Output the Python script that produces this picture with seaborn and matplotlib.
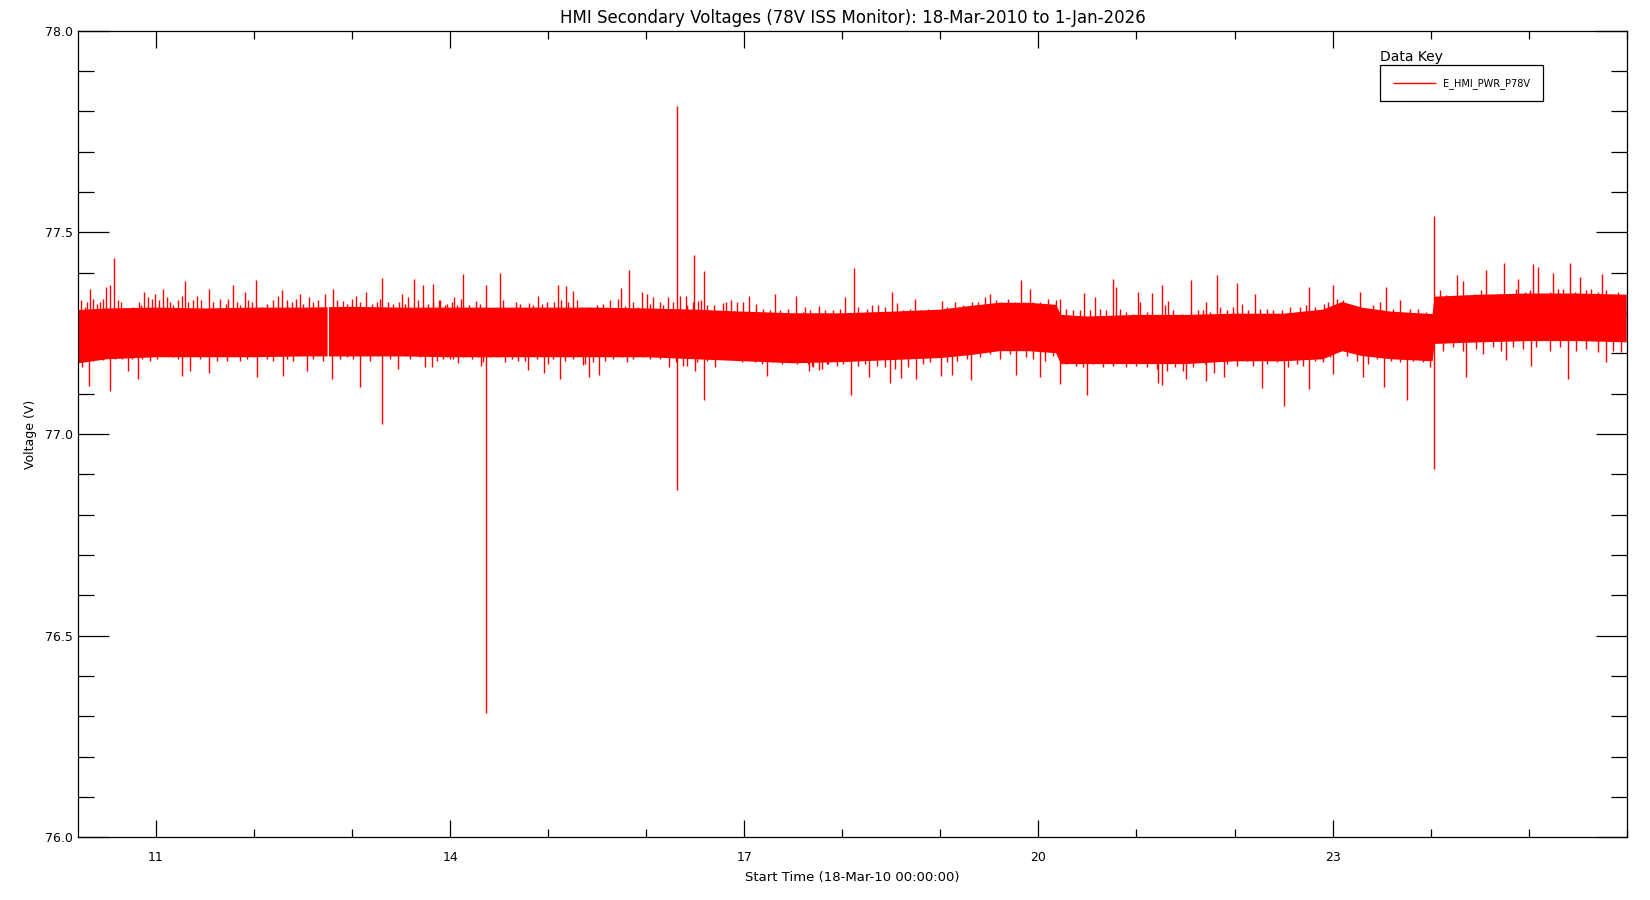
import numpy as np
import matplotlib
matplotlib.use("Agg")
import matplotlib.pyplot as plt
from matplotlib.ticker import FixedLocator, MultipleLocator, FormatStrFormatter
import seaborn as sns

# zeit v rokoch od 2000 (18-Mar-2010 ... 1-Jan-2026), napatie vo voltoch
# jadro sumoveho pasu (horna a dolna hranica)
band_years = [10.21, 10.5, 11.0, 11.5, 12.0, 12.5, 13.0, 13.5, 14.0, 14.5, 15.0, 15.5, 16.0,
              16.5, 17.0, 17.5, 18.0, 18.5, 19.0, 19.3, 19.6, 19.9, 20.18, 20.23, 20.5, 21.0,
              21.5, 22.0, 22.5, 22.9, 23.1, 23.3, 23.6, 24.02, 24.04, 24.5, 25.0, 25.5, 26.0]
band_hi = [77.307, 77.311, 77.313, 77.311, 77.313, 77.313, 77.315, 77.313, 77.313, 77.313, 77.313,
           77.313, 77.311, 77.308, 77.303, 77.299, 77.299, 77.303, 77.308, 77.317, 77.325, 77.325,
           77.32, 77.295, 77.291, 77.295, 77.295, 77.298, 77.298, 77.308, 77.327, 77.313, 77.303,
           77.297, 77.34, 77.345, 77.348, 77.348, 77.345]
band_lo = [77.175, 77.185, 77.19, 77.19, 77.19, 77.192, 77.192, 77.192, 77.19, 77.19, 77.19,
           77.19, 77.19, 77.185, 77.18, 77.175, 77.178, 77.183, 77.188, 77.195, 77.205, 77.205,
           77.2, 77.173, 77.173, 77.173, 77.173, 77.18, 77.18, 77.185, 77.205, 77.193, 77.185,
           77.18, 77.223, 77.227, 77.23, 77.23, 77.227]
gap_year = 12.757

# vyrazne spicky nad pasom
up_years = [10.232, 10.327, 10.361, 10.487, 10.531, 10.575, 10.881, 10.990, 11.075, 11.296,
            11.544, 11.788, 12.020, 12.281, 12.468, 12.801, 13.039, 13.505, 13.631, 13.726,
            13.821, 13.896, 14.134, 14.508, 14.899, 14.984, 15.096, 15.184, 15.256, 15.745,
            15.827, 15.956, 16.010, 16.065, 16.224, 16.401, 16.490, 16.557, 16.863, 17.047,
            17.312, 17.530, 17.761, 18.029, 18.121, 18.502, 18.743, 19.504, 19.824, 19.912,
            20.463, 20.575, 20.762, 20.796, 21.017, 21.163, 21.262, 21.323, 21.551, 21.707,
            21.823, 22.027, 22.210, 22.761, 23.006, 23.278, 23.546, 24.270, 24.331, 24.569,
            24.746, 24.892, 25.045, 25.096, 25.249, 25.419, 25.521, 25.749, 25.912]
up_tips = [77.331, 77.360, 77.335, 77.364, 77.368, 77.437, 77.352, 77.348, 77.358, 77.378,
           77.360, 77.368, 77.381, 77.356, 77.348, 77.360, 77.343, 77.348, 77.385, 77.368,
           77.371, 77.331, 77.396, 77.398, 77.343, 77.328, 77.368, 77.366, 77.353, 77.362,
           77.407, 77.352, 77.348, 77.339, 77.339, 77.341, 77.443, 77.333, 77.331, 77.341,
           77.348, 77.341, 77.316, 77.339, 77.412, 77.352, 77.335, 77.348, 77.381, 77.358,
           77.350, 77.339, 77.385, 77.364, 77.352, 77.349, 77.370, 77.329, 77.381, 77.327,
           77.393, 77.373, 77.346, 77.363, 77.368, 77.352, 77.363, 77.393, 77.378, 77.406,
           77.424, 77.385, 77.421, 77.413, 77.398, 77.423, 77.388, 77.396, 77.352]

# vyrazne spicky pod pasom
down_years = [10.242, 10.320, 10.531, 10.718, 10.820, 11.268, 11.347, 11.540, 12.027, 12.292,
              12.536, 12.791, 13.080, 13.471, 13.743, 13.814, 14.080, 14.317, 14.797, 14.960,
              15.123, 15.354, 15.419, 15.521, 16.228, 16.377, 16.496, 16.697, 17.234, 17.655,
              17.764, 18.090, 18.274, 18.485, 18.600, 18.753, 19.005, 19.114, 19.311, 19.770,
              20.014, 20.222, 20.497, 21.221, 21.262, 21.500, 21.711, 21.789, 21.894, 22.282,
              22.506, 22.761, 23.006, 23.308, 23.526, 23.760, 24.362, 24.766, 25.021, 25.398,
              25.789]
down_tips = [77.165, 77.119, 77.106, 77.156, 77.135, 77.144, 77.156, 77.152, 77.140, 77.144,
             77.156, 77.137, 77.117, 77.160, 77.165, 77.165, 77.175, 77.169, 77.158, 77.150,
             77.137, 77.171, 77.142, 77.146, 77.166, 77.169, 77.156, 77.167, 77.144, 77.156,
             77.158, 77.096, 77.140, 77.127, 77.138, 77.137, 77.144, 77.146, 77.133, 77.146,
             77.140, 77.123, 77.096, 77.127, 77.121, 77.137, 77.131, 77.152, 77.142, 77.115,
             77.069, 77.112, 77.148, 77.140, 77.117, 77.085, 77.142, 77.184, 77.169, 77.137,
             77.177]

# drobne "chlpy" na okraji pasu (horny okraj)
hair_up_years = [10.276, 10.293, 10.395, 10.429, 10.463, 10.616, 10.640, 10.701, 10.769, 10.827,
                 10.847, 10.922, 10.963, 11.031, 11.116, 11.143, 11.177, 11.228, 11.262, 11.323,
                 11.381, 11.421, 11.455, 11.585, 11.653, 11.714, 11.738, 11.823, 11.857, 11.907,
                 11.935, 11.975, 12.077, 12.128, 12.196, 12.247, 12.332, 12.383, 12.428, 12.502,
                 12.563, 12.604, 12.655, 12.723, 12.842, 12.910, 12.951, 12.999, 13.080, 13.141,
                 13.199, 13.250, 13.284, 13.369, 13.420, 13.481, 13.539, 13.573, 13.675, 13.777,
                 13.828, 13.964, 14.015, 14.066, 13.886, 13.947, 14.039, 14.110, 14.195, 14.260,
                 14.304, 14.423, 14.535, 14.593, 14.668, 14.712, 14.807, 14.848, 14.939, 15.058,
                 15.126, 15.201, 15.290, 15.341, 15.426, 15.494, 15.562, 15.630, 15.708, 15.782,
                 15.867, 15.918, 16.037, 16.139, 16.173, 16.275, 16.343, 16.411, 16.479, 16.530,
                 16.615, 16.693, 16.778, 16.812, 16.921, 16.989, 17.118, 17.193, 17.261, 17.363,
                 17.448, 17.601, 17.669, 17.822, 17.618, 17.907, 17.975, 18.162, 18.247, 18.298,
                 18.366, 18.434, 18.553, 18.621, 18.689, 18.791, 18.876, 18.927, 19.012, 19.063,
                 19.148, 19.233, 19.318, 19.385, 19.453, 19.572, 19.623, 19.691, 19.759, 19.946,
                 20.014, 20.099, 20.184, 20.218, 20.286, 20.354, 20.422, 20.524, 20.626, 20.694,
                 20.830, 20.898, 20.966, 21.034, 21.102, 21.289, 21.374, 21.459, 21.527, 21.629,
                 21.680, 21.748, 21.850, 21.918, 21.986, 22.071, 22.139, 22.258, 22.326, 22.394,
                 22.479, 22.564, 22.666, 22.727, 22.819, 22.910, 22.955, 23.040, 23.108, 23.193,
                 23.346, 23.414, 23.482, 23.617, 23.685, 23.787, 23.872, 23.957, 24.093, 24.161,
                 24.229, 24.365, 24.450, 24.518, 24.620, 24.705, 24.807, 24.875, 24.960, 25.011,
                 25.164, 25.215, 25.300, 25.351, 25.470, 25.589, 25.640, 25.708, 25.793, 25.861,
                 25.946]
hair_up_tips = [77.314, 77.327, 77.323, 77.327, 77.335, 77.331, 77.327, 77.310, 77.314, 77.327,
                77.319, 77.339, 77.335, 77.331, 77.339, 77.327, 77.319, 77.331, 77.343, 77.327,
                77.331, 77.343, 77.331, 77.327, 77.335, 77.323, 77.335, 77.327, 77.319, 77.352,
                77.331, 77.327, 77.314, 77.323, 77.331, 77.343, 77.331, 77.327, 77.335, 77.323,
                77.339, 77.327, 77.331, 77.348, 77.331, 77.329, 77.323, 77.335, 77.327, 77.352,
                77.323, 77.327, 77.335, 77.327, 77.323, 77.327, 77.323, 77.339, 77.331, 77.323,
                77.327, 77.323, 77.327, 77.319, 77.331, 77.319, 77.339, 77.335, 77.319, 77.329,
                77.323, 77.310, 77.331, 77.310, 77.327, 77.323, 77.324, 77.319, 77.323, 77.327,
                77.331, 77.327, 77.331, 77.314, 77.314, 77.319, 77.323, 77.331, 77.335, 77.316,
                77.327, 77.314, 77.323, 77.327, 77.319, 77.327, 77.343, 77.319, 77.327, 77.329,
                77.319, 77.319, 77.324, 77.327, 77.327, 77.327, 77.323, 77.310, 77.306, 77.306,
                77.310, 77.302, 77.306, 77.306, 77.314, 77.306, 77.310, 77.314, 77.310, 77.319,
                77.319, 77.314, 77.324, 77.306, 77.310, 77.306, 77.310, 77.306, 77.329, 77.314,
                77.327, 77.319, 77.327, 77.327, 77.339, 77.331, 77.327, 77.335, 77.327, 77.327,
                77.327, 77.335, 77.331, 77.335, 77.310, 77.306, 77.306, 77.306, 77.310, 77.306,
                77.310, 77.302, 77.298, 77.327, 77.302, 77.319, 77.306, 77.298, 77.293, 77.306,
                77.306, 77.302, 77.314, 77.306, 77.314, 77.323, 77.306, 77.310, 77.310, 77.306,
                77.306, 77.314, 77.314, 77.319, 77.314, 77.321, 77.327, 77.335, 77.331, 77.310,
                77.310, 77.319, 77.327, 77.310, 77.331, 77.310, 77.310, 77.302, 77.356, 77.344,
                77.339, 77.344, 77.348, 77.356, 77.344, 77.348, 77.344, 77.360, 77.352, 77.356,
                77.344, 77.352, 77.360, 77.360, 77.352, 77.356, 77.360, 77.352, 77.356, 77.344,
                77.335]

# drobne "chlpy" na okraji pasu (dolny okraj)
hair_down_years = [10.225, 10.259, 10.361, 10.412, 10.463, 10.582, 10.650, 10.752, 10.854, 10.939,
                   11.007, 11.177, 11.228, 11.449, 11.619, 11.721, 11.857, 11.925, 12.128, 12.196,
                   12.332, 12.400, 12.604, 12.706, 12.876, 12.944, 13.012, 13.182, 13.386, 13.590,
                   13.692, 13.862, 13.964, 14.032, 13.930, 13.998, 14.134, 14.219, 14.287, 14.338,
                   14.406, 14.474, 14.559, 14.627, 14.695, 14.763, 14.882, 15.001, 15.045, 15.171,
                   15.256, 15.375, 15.460, 15.578, 15.663, 15.748, 15.799, 15.867, 15.969, 16.037,
                   16.139, 16.302, 16.411, 16.513, 16.615, 16.751, 16.836, 16.904, 16.972, 17.040,
                   17.108, 17.176, 17.295, 17.380, 17.465, 17.533, 17.601, 17.686, 17.839, 17.652,
                   17.703, 17.788, 17.856, 17.941, 18.009, 18.162, 18.230, 18.349, 18.434, 18.536,
                   18.672, 18.825, 18.893, 19.063, 19.165, 19.267, 19.403, 19.504, 19.606, 19.708,
                   19.878, 19.946, 20.065, 20.150, 20.286, 20.388, 20.456, 20.558, 20.660, 20.762,
                   20.898, 21.000, 21.102, 21.204, 21.306, 21.391, 21.476, 21.578, 21.697, 21.799,
                   21.918, 22.020, 22.122, 22.190, 22.326, 22.428, 22.547, 22.632, 22.700, 22.819,
                   22.904, 22.972, 23.074, 23.142, 23.244, 23.363, 23.448, 23.600, 23.685, 23.821,
                   23.923, 23.991, 24.127, 24.229, 24.331, 24.467, 24.535, 24.637, 24.722, 24.841,
                   24.943, 25.079, 25.215, 25.317, 25.487, 25.589, 25.708, 25.861, 25.946]
hair_down_tips = [77.185, 77.177, 77.181, 77.185, 77.183, 77.185, 77.185, 77.185, 77.185, 77.181,
                  77.185, 77.190, 77.185, 77.185, 77.181, 77.181, 77.181, 77.185, 77.185, 77.181,
                  77.185, 77.181, 77.185, 77.181, 77.185, 77.190, 77.185, 77.181, 77.185, 77.185,
                  77.190, 77.181, 77.190, 77.185, 77.185, 77.185, 77.190, 77.185, 77.190, 77.177,
                  77.190, 77.190, 77.177, 77.185, 77.181, 77.181, 77.185, 77.173, 77.185, 77.181,
                  77.185, 77.173, 77.177, 77.181, 77.185, 77.190, 77.177, 77.185, 77.190, 77.185,
                  77.185, 77.177, 77.169, 77.177, 77.181, 77.190, 77.185, 77.190, 77.177, 77.185,
                  77.177, 77.173, 77.177, 77.173, 77.177, 77.173, 77.177, 77.169, 77.173, 77.173,
                  77.165, 77.160, 77.173, 77.169, 77.173, 77.169, 77.173, 77.169, 77.165, 77.160,
                  77.165, 77.173, 77.177, 77.177, 77.181, 77.185, 77.190, 77.198, 77.185, 77.198,
                  77.190, 77.185, 77.181, 77.194, 77.173, 77.169, 77.165, 77.173, 77.165, 77.169,
                  77.165, 77.169, 77.165, 77.160, 77.156, 77.165, 77.156, 77.165, 77.173, 77.181,
                  77.173, 77.169, 77.181, 77.169, 77.173, 77.177, 77.165, 77.173, 77.169, 77.181,
                  77.177, 77.190, 77.206, 77.194, 77.181, 77.173, 77.185, 77.181, 77.177, 77.181,
                  77.177, 77.165, 77.206, 77.215, 77.206, 77.210, 77.198, 77.215, 77.206, 77.215,
                  77.210, 77.215, 77.206, 77.215, 77.206, 77.210, 77.202, 77.206, 77.202]

# dlhe spicky cez cely pas
spike_years = [13.305, 14.366, 16.309, 16.590, 24.030]
spike_lo = [77.024, 76.307, 76.861, 77.085, 76.914]
spike_hi = [77.387, 77.370, 77.812, 77.403, 77.541]

major_years = [11, 14, 17, 20, 23]
title = "HMI Secondary Voltages (78V ISS Monitor): 18-Mar-2010 to 1-Jan-2026"
red = "#ff0000"

sns.set_style("ticks", {"axes.edgecolor": "black", "text.color": "black",
                        "xtick.color": "black", "ytick.color": "black",
                        "axes.labelcolor": "black"})
plt.rcParams['font.family'] = ['DejaVu Sans']

fig, ax = plt.subplots(figsize=(16.5, 9), dpi=100)
fig.subplots_adjust(left=0.0475, right=0.9859, bottom=0.0697, top=0.9661)

# pas s kratkou medzerou v datach
yrs = np.array(band_years)
x = np.sort(np.concatenate([yrs, [gap_year - 0.007, gap_year, gap_year + 0.007]]))
hi = np.interp(x, yrs, band_hi)
lo = np.interp(x, yrs, band_lo)
ax.fill_between(x, lo, hi, where=np.abs(x - gap_year) > 0.001, color=red, lw=0)


def whiskers(xs, tips, edge, lw):
    # cary od okraja pasu po hrot
    xs = np.asarray(xs)
    base = np.interp(xs, yrs, edge)
    ax.vlines(xs, base, tips, color=red, lw=lw)


whiskers(hair_up_years, hair_up_tips, np.array(band_hi) - 0.01, 1.0)
whiskers(hair_down_years, hair_down_tips, np.array(band_lo) + 0.01, 1.0)
whiskers(up_years, up_tips, np.array(band_hi) - 0.01, 1.0)
whiskers(down_years, down_tips, np.array(band_lo) + 0.01, 1.0)
ax.vlines(spike_years, spike_lo, spike_hi, color=red, lw=1.0, label="E_HMI_PWR_P78V")

ax.set_xlim(10.208, 26.0)
ax.set_ylim(76.0, 78.0)

ax.xaxis.set_major_locator(FixedLocator(major_years))
ax.xaxis.set_minor_locator(MultipleLocator(1))
ax.xaxis.set_major_formatter(FormatStrFormatter("%d"))
ax.yaxis.set_major_locator(MultipleLocator(0.5))
ax.yaxis.set_minor_locator(MultipleLocator(0.1))
ax.yaxis.set_major_formatter(FormatStrFormatter("%.1f"))

ax.tick_params(which='both', direction='in', top=True, right=True, width=0.9,
               color='black', labelsize=9)
ax.tick_params(axis='y', which='major', length=22.5, pad=4)
ax.tick_params(axis='y', which='minor', length=11.2)
ax.tick_params(axis='x', which='major', length=12.5, pad=10)
ax.tick_params(axis='x', which='minor', length=6)
for s in ax.spines.values():
    s.set_linewidth(0.9)
    s.set_color('black')

ax.set_title(title, fontsize=12, pad=5.6)
ax.set_xlabel("Start Time (18-Mar-10 00:00:00)", fontsize=9.5)
ax.xaxis.set_label_coords(0.5, -0.042)
ax.set_ylabel("Voltage (V)", fontsize=9)
ax.yaxis.set_label_coords(-0.0264, 0.5)

leg = ax.legend(loc='upper left', bbox_to_anchor=(0.8408, 0.9569), borderaxespad=0,
                frameon=True, fancybox=False, edgecolor='black', framealpha=1,
                fontsize=7, handlelength=4.4, handletextpad=0.8, borderpad=1.3)
leg.get_frame().set_linewidth(0.9)
ax.text(0.8408, 0.9626, "Data Key", transform=ax.transAxes, fontsize=10, va='baseline')

fig.savefig("out.png", dpi=100)
plt.close(fig)
